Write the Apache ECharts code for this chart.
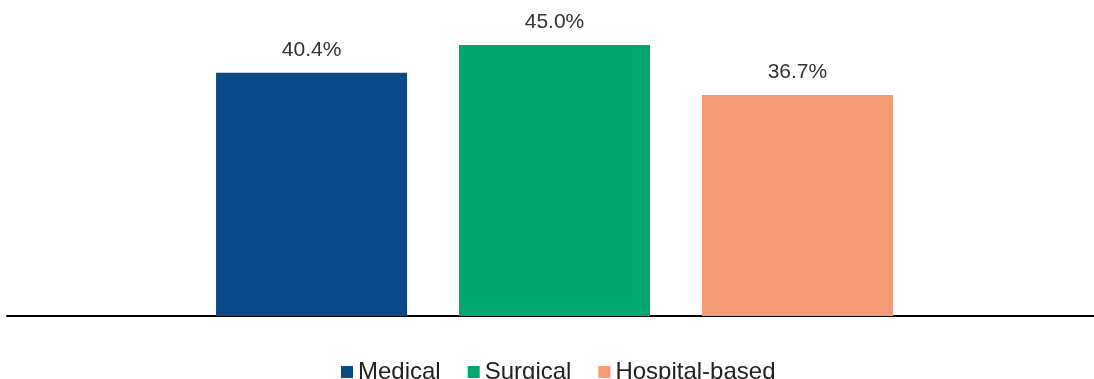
<!DOCTYPE html>
<html>
<head>
<meta charset="utf-8">
<script src="https://cdn.jsdelivr.net/npm/echarts@6/dist/echarts.min.js"></script>
<style>
  html, body { margin: 0; padding: 0; background: #fff; }
  #chart { width: 1094px; height: 379px; }
</style>
</head>
<body>
<div id="chart"></div>
<script>
// Share of cases by setting (percent)
const categories = [''];
const seriesNames = ['Medical', 'Surgical', 'Hospital-based'];
const seriesValues = [40.4, 45.0, 36.7];
const seriesColors = ['#0B4A88', '#00A870', '#F49B76'];

const chart = echarts.init(document.getElementById('chart'));

const series = seriesNames.map((name, i) => ({
  name: name,
  type: 'bar',
  xAxisIndex: 0,
  yAxisIndex: 0,
  data: [seriesValues[i]],
  barWidth: 191,
  barGap: '27.2%',
  itemStyle: { color: seriesColors[i] },
  label: {
    show: true,
    position: 'top',
    distance: 12,
    formatter: p => p.value.toFixed(1) + '%',
    color: '#333333',
    fontSize: 21,
    fontFamily: 'Liberation Sans, Arial, sans-serif'
  }
}));

chart.setOption({
  animation: false,
  backgroundColor: '#ffffff',
  legend: {
    data: seriesNames,
    left: 341,
    top: 360,
    padding: 0,
    itemWidth: 12,
    itemHeight: 12,
    itemGap: 27,
    icon: 'rect',
    textStyle: {
      color: '#222222',
      fontSize: 24,
      fontFamily: 'Liberation Sans, Arial, sans-serif'
    }
  },
  grid: [
    { left: 15, right: 0, top: 15, bottom: 63 },
    { left: 7, right: 0, top: 15, bottom: 63 }
  ],
  xAxis: [
    {
      gridIndex: 0,
      type: 'category',
      data: categories,
      axisLine: { show: false },
      axisTick: { show: false },
      axisLabel: { show: false }
    },
    {
      gridIndex: 1,
      type: 'category',
      data: categories,
      axisLine: { show: true, lineStyle: { color: '#000000', width: 2 } },
      axisTick: { show: false },
      axisLabel: { show: false }
    }
  ],
  yAxis: [
    {
      gridIndex: 0,
      type: 'value',
      min: 0,
      max: 50,
      show: false
    },
    {
      gridIndex: 1,
      type: 'value',
      min: 0,
      max: 50,
      show: false
    }
  ],
  series: series
});
</script>
</body>
</html>
